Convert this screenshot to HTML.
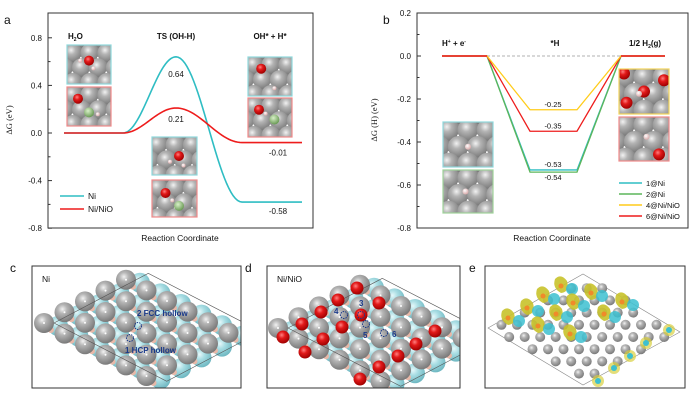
<!DOCTYPE html>
<html><head><meta charset="utf-8"><style>
body{margin:0;background:#fff;}
svg{display:block;font-family:"Liberation Sans",Arial,sans-serif;}
</style></head><body>
<svg id="fig" width="700" height="400" viewBox="0 0 700 400">
<defs>
<radialGradient id="gN" cx="0.4" cy="0.35" r="0.65"><stop offset="0" stop-color="#f2f2f2"/><stop offset="0.35" stop-color="#b4b4b4"/><stop offset="1" stop-color="#7a7a7a"/></radialGradient>
<radialGradient id="gO" cx="0.4" cy="0.35" r="0.65"><stop offset="0" stop-color="#ff8080"/><stop offset="0.4" stop-color="#e21a1a"/><stop offset="1" stop-color="#a00000"/></radialGradient>
<radialGradient id="gC" cx="0.4" cy="0.35" r="0.65"><stop offset="0" stop-color="#e6f8fa"/><stop offset="0.4" stop-color="#a8dde3"/><stop offset="1" stop-color="#6fb8c2"/></radialGradient>
<radialGradient id="gH" cx="0.4" cy="0.35" r="0.65"><stop offset="0" stop-color="#fff"/><stop offset="1" stop-color="#d8a8a8"/></radialGradient>
<radialGradient id="gG" cx="0.4" cy="0.35" r="0.65"><stop offset="0" stop-color="#d8f0c8"/><stop offset="1" stop-color="#6a9a55"/></radialGradient>
</defs>
<g id="layer"></g>
</svg>
<script>
// ---- panel a data ----
const aStates = ["H2O","TS (OH-H)","OH* + H*"];
const aNi = [0, 0.64, -0.58];
const aNiO = [0, 0.21, -0.08];
const aNiLabels = ["0.64","-0.58"];
const aNiOLabels = ["0.21","-0.01"];
const aTicks = [0.8,0.4,0.0,-0.4,-0.8];
// ---- panel b data ----
const bSeries = ["1@Ni","2@Ni","4@Ni/NiO","6@Ni/NiO"];
const bValues = [-0.53,-0.54,-0.25,-0.35];
const bLabels = ["-0.53","-0.54","-0.25","-0.35"];
const bTicks = [0.2,0.0,-0.2,-0.4,-0.6,-0.8];
const bColors = ["#2fbdc3","#5cb55a","#ffcc1a","#ee1c1c"];

const NS="http://www.w3.org/2000/svg";
const L=document.getElementById('layer');
function mk(tag,attrs,parent){const e=document.createElementNS(NS,tag);for(const k in attrs)e.setAttribute(k,attrs[k]);(parent||L).appendChild(e);return e;}
function txt(x,y,s,size,opts){const t=mk('text',Object.assign({x:x,y:y,'font-size':size,fill:'#111'},opts||{}));t.textContent=s;return t;}

// ===== Panel a =====
const aY=v=>133-v*119;
const ax0=48,ax1=313;
let g=mk('g',{});


let r=mk('rect',{x:ax0,y:13,width:ax1-ax0,height:215,fill:'none',stroke:'#333','stroke-width':1},g);

aTicks.forEach(v=>{mk('line',{x1:ax0,x2:ax0+4,y1:aY(v),y2:aY(v),stroke:'#333'},g);
 const t=txt(ax0-6,aY(v)+3,v.toFixed(1),8,{'text-anchor':'end'});
 });
for(let v=-0.6;v<0.9;v+=0.4){mk('line',{x1:ax0,x2:ax0+2.5,y1:aY(v),y2:aY(v),stroke:'#333'},g);}
let t=txt(12,120,'ΔG (eV)',8.5,{'text-anchor':'middle',transform:'rotate(-90 12 120)','font-family':'Liberation Serif,serif'});

t=txt(180,241,'Reaction Coordinate',8.5,{'text-anchor':'middle'});

txt(4,24,'a',12,{});
function aPath(vals){const xs=[64,123,176,242,302];let d=`M${xs[0]},${aY(vals[0])} L${xs[1]},${aY(vals[0])}`;
 const seg=(xa,xb,va,vb)=>{for(let i=1;i<=30;i++){const f=i/30;const e=(1-Math.cos(Math.PI*f))/2;d+=` L${xa+(xb-xa)*f},${aY(va+(vb-va)*e)}`;}};
 seg(xs[1],xs[2],vals[0],vals[1]);seg(xs[2],xs[3],vals[1],vals[2]);d+=` L${xs[4]},${aY(vals[2])}`;return d;}
let p=mk('path',{d:aPath(aNi),fill:'none',stroke:'#2fbdc3','stroke-width':1.6});

p=mk('path',{d:aPath(aNiO),fill:'none',stroke:'#ee1c1c','stroke-width':1.6});

txt(176,aY(aNi[1])+20,aNiLabels[0],8,{'text-anchor':'middle'});
txt(176,aY(aNiO[1])+14,aNiOLabels[0],8,{'text-anchor':'middle'});
txt(278,aY(aNiO[2])+13,aNiOLabels[1],8,{'text-anchor':'middle'});
txt(278,aY(aNi[2])+12,aNiLabels[1],8,{'text-anchor':'middle'});
t=txt(68,39,'H',8,{'font-weight':'bold'});
const sub=mk('tspan',{'font-size':5,dy:2},t);sub.textContent='2';const o=mk('tspan',{dy:-2},t);o.textContent='O';
txt(176,39,aStates[1],8,{'font-weight':'bold','text-anchor':'middle'});
txt(270,39,aStates[2],8,{'font-weight':'bold','text-anchor':'middle'});
// legend a
let lg=mk('line',{x1:60,x2:84,y1:196,y2:196,stroke:'#2fbdc3','stroke-width':1.6});

txt(88,199,'Ni',8.5,{});
lg=mk('line',{x1:60,x2:84,y1:209,y2:209,stroke:'#ee1c1c','stroke-width':1.6});

txt(88,212,'Ni/NiO',8.5,{});

// inset drawer
let clipId=0;
function inset(x,y,w,h,border,atoms,name){
 const id='c'+(clipId++);const cp=mk('clipPath',{id:id});mk('rect',{x:x,y:y,width:w,height:h},cp);
 const gi=mk('g',{'clip-path':`url(#${id})`});
 
 mk('rect',{x:x,y:y,width:w,height:h,fill:'#8c8c8c'},gi);
 const s=w/2.6;
 for(let rr=-1;rr<4;rr++)for(let c=-1;c<4;c++){const cx=x+c*s+(rr%2?s/2:0)+6,cy=y+rr*s*0.87+8;
  mk('circle',{cx:cx,cy:cy,r:s*0.56,fill:'url(#gN)'},gi);mk('circle',{cx:cx+s/2,cy:cy+s*0.3,r:1.5,fill:'#fff'},gi);}
 atoms.forEach(a=>mk('circle',{cx:x+a[0]*w,cy:y+a[1]*h,r:a[2],fill:a[3]},gi));
 mk('rect',{x:x,y:y,width:w,height:h,fill:'none',stroke:border,'stroke-width':1.2});
}
inset(67,45,44,39,'#8fd8dc',[[0.5,0.4,5,'url(#gO)'],[0.3,0.4,2,'url(#gH)'],[0.6,0.6,2,'url(#gH)']],'inset-h2o-ni');
inset(67,87,44,39,'#f08a8a',[[0.25,0.3,5,'url(#gO)'],[0.5,0.65,5,'url(#gG)'],[0.7,0.7,2,'url(#gH)']],'inset-h2o-nio');
inset(152,137,45,38,'#8fd8dc',[[0.6,0.5,5,'url(#gO)'],[0.4,0.65,2,'url(#gH)'],[0.7,0.75,2,'url(#gH)']],'inset-ts-ni');
inset(152,180,45,37,'#f08a8a',[[0.3,0.35,5,'url(#gO)'],[0.6,0.7,5,'url(#gG)'],[0.45,0.55,2,'url(#gH)']],'inset-ts-nio');
inset(248,57,44,39,'#8fd8dc',[[0.3,0.3,5,'url(#gO)'],[0.6,0.8,2,'url(#gH)']],'inset-ohh-ni');
inset(248,98,44,39,'#f08a8a',[[0.25,0.3,5,'url(#gO)'],[0.6,0.55,5,'url(#gG)'],[0.4,0.4,2,'url(#gH)']],'inset-ohh-nio');

// ===== Panel b =====
const bY=v=>56-v*215;
const bx0=417,bx1=688;
r=mk('rect',{x:bx0,y:13,width:bx1-bx0,height:215,fill:'none',stroke:'#333'});

bTicks.forEach(v=>{mk('line',{x1:bx0,x2:bx0+4,y1:bY(v),y2:bY(v),stroke:'#333'});
 const tt=txt(bx0-6,bY(v)+3,v.toFixed(1),8,{'text-anchor':'end'});
 });
for(let v=-0.7;v<0.2;v+=0.2){mk('line',{x1:bx0,x2:bx0+2.5,y1:bY(v),y2:bY(v),stroke:'#333'});}
t=txt(377,120,'ΔG (H) (eV)',8.5,{'text-anchor':'middle',transform:'rotate(-90 377 120)','font-family':'Liberation Serif,serif'});

t=txt(552,241,'Reaction Coordinate',8.5,{'text-anchor':'middle'});

txt(383,24,'b',12,{});
mk('line',{x1:487,x2:621,y1:bY(0),y2:bY(0),stroke:'#999','stroke-dasharray':'3,2','stroke-width':0.8});
[0,1,3,2].forEach(i=>{const v=bValues[i];
 const pl=mk('polyline',{points:`442,${bY(0)} 487,${bY(0)} 530,${bY(v)} 577,${bY(v)} 621,${bY(0)} 665,${bY(0)}`,fill:'none',stroke:bColors[i],'stroke-width':1.3});
 
 txt(553,bY(v)+(i==1?8:-3),bLabels[i],7.5,{'text-anchor':'middle'});
});
mk('line',{x1:442,x2:487,y1:bY(0),y2:bY(0),stroke:'#ee1c1c','stroke-width':1.6});
mk('line',{x1:621,x2:665,y1:bY(0),y2:bY(0),stroke:'#ee1c1c','stroke-width':1.6});
t=txt(454,46,'H',8,{'font-weight':'bold','text-anchor':'middle'});
let s1=mk('tspan',{'font-size':5,dy:-3},t);s1.textContent='+';s1=mk('tspan',{dy:3},t);s1.textContent=' + e';s1=mk('tspan',{'font-size':5,dy:-3},t);s1.textContent='-';
txt(555,46,'*H',8,{'font-weight':'bold','text-anchor':'middle'});
t=txt(645,46,'1/2 H',8,{'font-weight':'bold','text-anchor':'middle'});
s1=mk('tspan',{'font-size':5,dy:2},t);s1.textContent='2';s1=mk('tspan',{dy:-2},t);s1.textContent='(g)';
bSeries.forEach((s,i)=>{const y=183+i*11;
 const lg2=mk('line',{x1:619,x2:642,y1:y,y2:y,stroke:bColors[i],'stroke-width':1.6});
 
 txt(646,y+3,s,7.5,{});});
inset(443,122,50,45,'#8fd8dc',[[0.5,0.55,3,'url(#gH)']],'inset-1-ni');
inset(443,170,50,43,'#9fd39a',[[0.45,0.5,3,'url(#gH)']],'inset-2-ni');
inset(619,69,50,45,'#f2d45a',[[0.1,0.1,6,'url(#gO)'],[0.5,0.5,6,'url(#gO)'],[0.15,0.75,6,'url(#gO)'],[0.9,0.25,6,'url(#gO)'],[0.4,0.55,3,'url(#gH)']],'inset-4-nio');
inset(619,117,50,44,'#f08a8a',[[0.8,0.85,6,'url(#gO)'],[0.55,0.45,3,'url(#gH)']],'inset-6-nio');

// ===== Panels c, d =====
function slab(bx,by,bw,bh,ox,oy,label,letter,reds,name){
 txt(bx-22,by+6,letter,12,{});
 const id='c'+(clipId++);const cp=mk('clipPath',{id:id});mk('rect',{x:bx,y:by,width:bw,height:bh},cp);
 const gi=mk('g',{'clip-path':`url(#${id})`});
 const a1=[20.5,-10.8],a2=[20.5,10.6];
 const pos=[];for(let i=0;i<5;i++)for(let j=0;j<6;j++)pos.push([ox+i*a1[0]+j*a2[0],oy+i*a1[1]+j*a2[1]]);
 pos.forEach(p=>mk('circle',{cx:p[0]+14,cy:p[1]+3,r:10,fill:'url(#gC)'},gi));
 pos.forEach(p=>mk('circle',{cx:p[0]+7,cy:p[1]+7,r:3,fill:'#e8b8a8'},gi));
 pos.sort((a,b)=>a[1]-b[1]).forEach(p=>{mk('circle',{cx:p[0],cy:p[1],r:10,fill:'url(#gN)'},gi);mk('circle',{cx:p[0],cy:p[1],r:1,fill:'#fff'},gi);});
 mk('polygon',{points:`${ox+10},${oy} ${ox+10+4.6*a1[0]},${oy+4.6*a1[1]} ${ox+10+4.6*a1[0]+5.5*a2[0]},${oy+4.6*a1[1]+5.5*a2[1]} ${ox+10+5.5*a2[0]},${oy+5.5*a2[1]}`,fill:'none',stroke:'#555','stroke-width':0.6},gi);
 reds.forEach(rd=>mk('circle',{cx:rd[0],cy:rd[1],r:6.5,fill:'url(#gO)'},gi));
 mk('rect',{x:bx,y:by,width:bw,height:bh,fill:'none',stroke:'#333','stroke-width':1});
 txt(bx+10,by+16,label,8.5,{});
}
slab(32,266,209,122,44,323,'Ni','c',[],'panel-c-ni-slab');
mk('circle',{cx:138,cy:326,r:3.5,fill:'none',stroke:'#1a3a8a','stroke-dasharray':'1.5,1'});
mk('circle',{cx:130,cy:338,r:3.5,fill:'none',stroke:'#1a3a8a','stroke-dasharray':'1.5,1'});
txt(137,316,'2 FCC hollow',8,{fill:'#1a3a8a','font-weight':'bold'});
txt(125,353,'1 HCP hollow',8,{fill:'#1a3a8a','font-weight':'bold'});
slab(267,266,193,122,278,328,'Ni/NiO','d',[[338,300],[321,312],[302,324],[283,337],[323,339],[342,327],[305,352],[357,288],[379,303],[361,315],[435,331],[416,344],[398,356],[379,367],[360,379]],'panel-d-nio-slab');
[[344,315],[361,315],[366,324],[384,333]].forEach(s=>{mk('circle',{cx:s[0],cy:s[1],r:3.5,fill:'none',stroke:'#1a3a8a','stroke-dasharray':'1.5,1'});});
txt(359,306,'3',8,{fill:'#1a3a8a','font-weight':'bold'});
txt(334,314,'4',8,{fill:'#1a3a8a','font-weight':'bold'});
txt(363,338,'5',8,{fill:'#1a3a8a','font-weight':'bold'});
txt(392,337,'6',8,{fill:'#1a3a8a','font-weight':'bold'});
// ===== panel e =====
txt(469,272,'e',12,{});
const ge=mk('g',{});
mk('rect',{x:485,y:266,width:200,height:122,fill:'#fff',stroke:'#333'},ge);
const E=[[488,328],[583,274],[680,332],[583,385]];
mk('polygon',{points:E.map(q=>q.join(',')).join(' '),fill:'none',stroke:'#888','stroke-width':0.6},ge);
function inside(x,y){ // rhombus test
 let s=0;for(let k=0;k<4;k++){const a=E[k],b=E[(k+1)%4];const c=(b[0]-a[0])*(y-a[1])-(b[1]-a[1])*(x-a[0]);if(c<0)return false;}return true;}
const blobs=[[508,318],[527,308],[543,296],[561,286],[538,326],[556,314],[573,303],[591,293],[570,334],[604,314],[622,302]];
for(let row=0;row<10;row++){const y=276+row*12.2;for(let c=0;c<14;c++){const x=486+c*15.5+(row%2?7.7:0);
 if(inside(x,y)||Math.abs(x-583)<3&&row==0) mk('circle',{cx:x,cy:y,r:5,fill:'url(#gN)'},ge);}}
blobs.forEach((p,k)=>{
 mk('path',{d:`M${p[0]-6},${p[1]-7} Q${p[0]},${p[1]-13} ${p[0]+6},${p[1]-5} Q${p[0]+9},${p[1]+6} ${p[0]},${p[1]+7} Q${p[0]-9},${p[1]+2} ${p[0]-6},${p[1]-7}Z`,fill:'#c8c22a',opacity:0.9},ge);
 mk('circle',{cx:p[0],cy:p[1],r:2.5,fill:'#f08a2a'},ge);
 mk('circle',{cx:p[0]+11,cy:p[1]+3,r:6,fill:'#3cc0d0',opacity:0.85},ge);});
[[669,330],[646,343],[630,356],[614,368],[478+120,381]].forEach(p=>{mk('circle',{cx:p[0],cy:p[1],r:6,fill:'#d8d040',opacity:0.7},ge);mk('circle',{cx:p[0],cy:p[1],r:3,fill:'#3cc0d0'},ge);});
</script>
</body></html>
